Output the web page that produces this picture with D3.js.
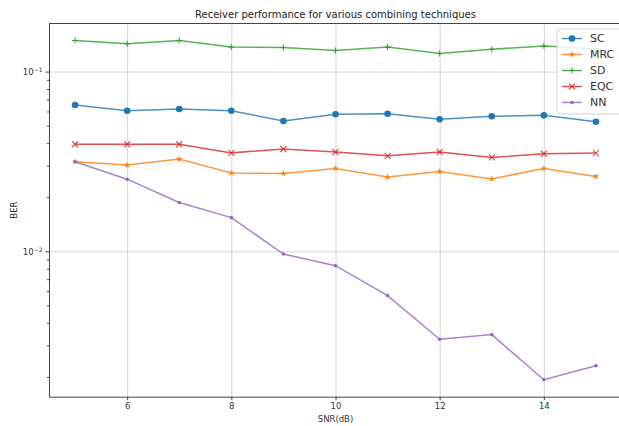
<!DOCTYPE html>
<html>
<head>
<meta charset="utf-8">
<script src="https://cdn.jsdelivr.net/npm/d3@7"></script>
<style>
  body { margin: 0; background: #fff; }
  svg { font-family: "DejaVu Sans", sans-serif; }
</style>
</head>
<body>
<div id="chart"></div>
<script>
var snr = [5, 6, 7, 8, 9, 10, 11, 12, 13, 14, 15];
var sc  = [0.0652, 0.0606, 0.0619, 0.0606, 0.0531, 0.0579, 0.0583, 0.0543, 0.0564, 0.0571, 0.0526];
var mrc = [0.0315, 0.0302, 0.0326, 0.0273, 0.0271, 0.0289, 0.0259, 0.0278, 0.0253, 0.0289, 0.0261];
var sd  = [0.149, 0.143, 0.149, 0.137, 0.136, 0.131, 0.137, 0.126, 0.133, 0.139, 0.134];
var eqc = [0.0394, 0.0394, 0.0394, 0.0353, 0.0371, 0.0357, 0.0340, 0.0357, 0.0333, 0.0349, 0.0352];
var nn  = [0.0315, 0.0252, 0.0187, 0.0154, 0.00966, 0.00832, 0.00567, 0.00324, 0.00344, 0.00193, 0.00231];
var names = ["SC", "MRC", "SD", "EQC", "NN"];
var xTicks = [6, 8, 10, 12, 14];
var yMajor = [0.1, 0.01];
var yMajorExp = ["\u22121", "\u22122"];

var series = [
  {name: "SC",  values: sc,  color: "#1f77b4", marker: "circle"},
  {name: "MRC", values: mrc, color: "#ff7f0e", marker: "star"},
  {name: "SD",  values: sd,  color: "#2ca02c", marker: "plus"},
  {name: "EQC", values: eqc, color: "#d62728", marker: "x"},
  {name: "NN",  values: nn,  color: "#9467bd", marker: "dot"}
];

var W = 619, H = 426;
var margin = {top: 23.5, left: 49, right: -3, bottom: 29.3};
var width = W - margin.left - margin.right,
    height = H - margin.top - margin.bottom;

var svg = d3.select("#chart").append("svg")
    .attr("width", W)
    .attr("height", H);

var g = svg.append("g")
    .attr("transform", "translate(" + margin.left + "," + margin.top + ")");

// matplotlib style auto-limits: 5% padding
var x = d3.scaleLinear()
    .domain([4.5, 15.5])
    .range([0, width]);

var all = [].concat(sc, mrc, sd, eqc, nn);
var lmin = Math.log10(d3.min(all)), lmax = Math.log10(d3.max(all));
var pad = (lmax - lmin) * 0.05;
var y = d3.scaleLog()
    .domain([Math.pow(10, lmin - pad), Math.pow(10, lmax + pad)])
    .range([height, 0]);

// grid
g.append("g")
    .attr("class", "grid")
    .attr("transform", "translate(0," + height + ")")
    .call(d3.axisBottom(x).tickValues(xTicks).tickSize(-height).tickFormat(""))
    .call(function(s) { s.select(".domain").remove(); });
g.append("g")
    .attr("class", "grid")
    .call(d3.axisLeft(y).tickValues(yMajor).tickSize(-width).tickFormat(""))
    .call(function(s) { s.select(".domain").remove(); });
g.selectAll(".grid line")
    .attr("stroke", "#b0b0b0")
    .attr("stroke-opacity", 0.6)
    .attr("stroke-width", 0.9);

// lines + markers
var line = d3.line()
    .x(function(d, i) { return x(snr[i]); })
    .y(function(d) { return y(d); });

var star = d3.symbol().type(d3.symbolStar).size(14);

series.forEach(function(s) {
  g.append("path")
      .datum(s.values)
      .attr("fill", "none")
      .attr("stroke", s.color)
      .attr("stroke-opacity", 0.8)
      .attr("stroke-width", 1.5)
      .attr("d", line);

  var pts = g.append("g").selectAll("g")
      .data(s.values)
    .enter().append("g")
      .attr("transform", function(d, i) { return "translate(" + x(snr[i]) + "," + y(d) + ")"; });
  drawMarker(pts, s);
});

function drawMarker(sel, s) {
  if (s.marker == "circle") {
    sel.append("circle").attr("r", 3.3).attr("fill", s.color);
  } else if (s.marker == "star") {
    sel.append("path").attr("d", star).attr("fill", s.color);
  } else if (s.marker == "dot") {
    sel.append("circle").attr("r", 1.8).attr("fill", s.color);
  } else if (s.marker == "plus") {
    sel.append("path").attr("d", "M-3,0H3M0,-3V3").attr("stroke", s.color).attr("stroke-width", 1);
  } else if (s.marker == "x") {
    sel.append("path").attr("d", "M-3,-3L3,3M-3,3L3,-3").attr("stroke", s.color)
        .attr("stroke-opacity", 0.8).attr("stroke-width", 1.2);
  }
}

// axes
var xAxis = g.append("g")
    .attr("transform", "translate(0," + height + ")")
    .call(d3.axisBottom(x).tickValues(xTicks).tickSize(3.5).tickPadding(3).tickSizeOuter(0));

var minor = [];
[0.001, 0.01].forEach(function(b) {
  for (var k = 2; k <= 9; k++) minor.push(b * k);
});
minor = minor.filter(function(v) { return v >= y.domain()[0] && v <= y.domain()[1]; });

g.append("g")
    .call(d3.axisLeft(y).tickValues(minor).tickSize(2).tickFormat("").tickSizeOuter(0))
    .call(function(s) { s.select(".domain").remove(); });

var yAxis = g.append("g")
    .call(d3.axisLeft(y).tickValues(yMajor).tickSize(3.5).tickPadding(3).tickSizeOuter(0).tickFormat(""));

yAxis.selectAll(".tick text")
    .attr("dy", "0.32em")
    .text("10")
    .append("tspan")
      .attr("dy", "-0.45em")
      .attr("font-size", "6px")
      .text(function(d, i) { return yMajorExp[i]; });

// spines
g.append("path")
    .attr("d", "M0,0H" + width)
    .attr("stroke", "#444").attr("stroke-width", 1);
g.selectAll(".domain").attr("stroke", "#444");
g.selectAll(".tick line").filter(function() { return this.parentNode.parentNode.getAttribute("class") != "grid"; })
    .attr("stroke", "#444");
g.selectAll(".tick text")
    .attr("fill", "#333")
    .attr("font-size", "8.5px")
    .attr("font-family", "DejaVu Sans");

// labels
svg.append("text")
    .attr("x", margin.left + width / 2)
    .attr("y", 18)
    .attr("text-anchor", "middle")
    .attr("font-size", "10px")
    .attr("fill", "#222")
    .text("Receiver performance for various combining techniques");

svg.append("text")
    .attr("x", margin.left + width / 2)
    .attr("y", 422)
    .attr("text-anchor", "middle")
    .attr("font-size", "8.5px")
    .attr("fill", "#333")
    .text("SNR(dB)");

svg.append("text")
    .attr("transform", "translate(17," + (margin.top + height / 2) + ") rotate(-90)")
    .attr("text-anchor", "middle")
    .attr("font-size", "8.5px")
    .attr("fill", "#333")
    .text("BER");

// legend
var lg = svg.append("g")
    .attr("transform", "translate(557,29)");
lg.append("rect")
    .attr("width", 70)
    .attr("height", 85)
    .attr("rx", 3)
    .attr("fill", "#fff")
    .attr("fill-opacity", 0.85)
    .attr("stroke", "#d0d0d0");

var item = lg.selectAll(".item")
    .data(series)
  .enter().append("g")
    .attr("class", "item")
    .attr("transform", function(d, i) { return "translate(0," + (9.5 + i * 16) + ")"; });
item.append("line")
    .attr("x1", 5).attr("x2", 25)
    .attr("stroke", function(d) { return d.color; })
    .attr("stroke-opacity", 0.8)
    .attr("stroke-width", 1.5);
item.each(function(d) {
  var m = d3.select(this).append("g").attr("transform", "translate(15,0)");
  drawMarker(m, d);
});
item.append("text")
    .attr("x", 33)
    .attr("dy", "0.36em")
    .attr("font-size", "11px")
    .attr("fill", "#333")
    .text(function(d) { return d.name; });
</script>
</body>
</html>
